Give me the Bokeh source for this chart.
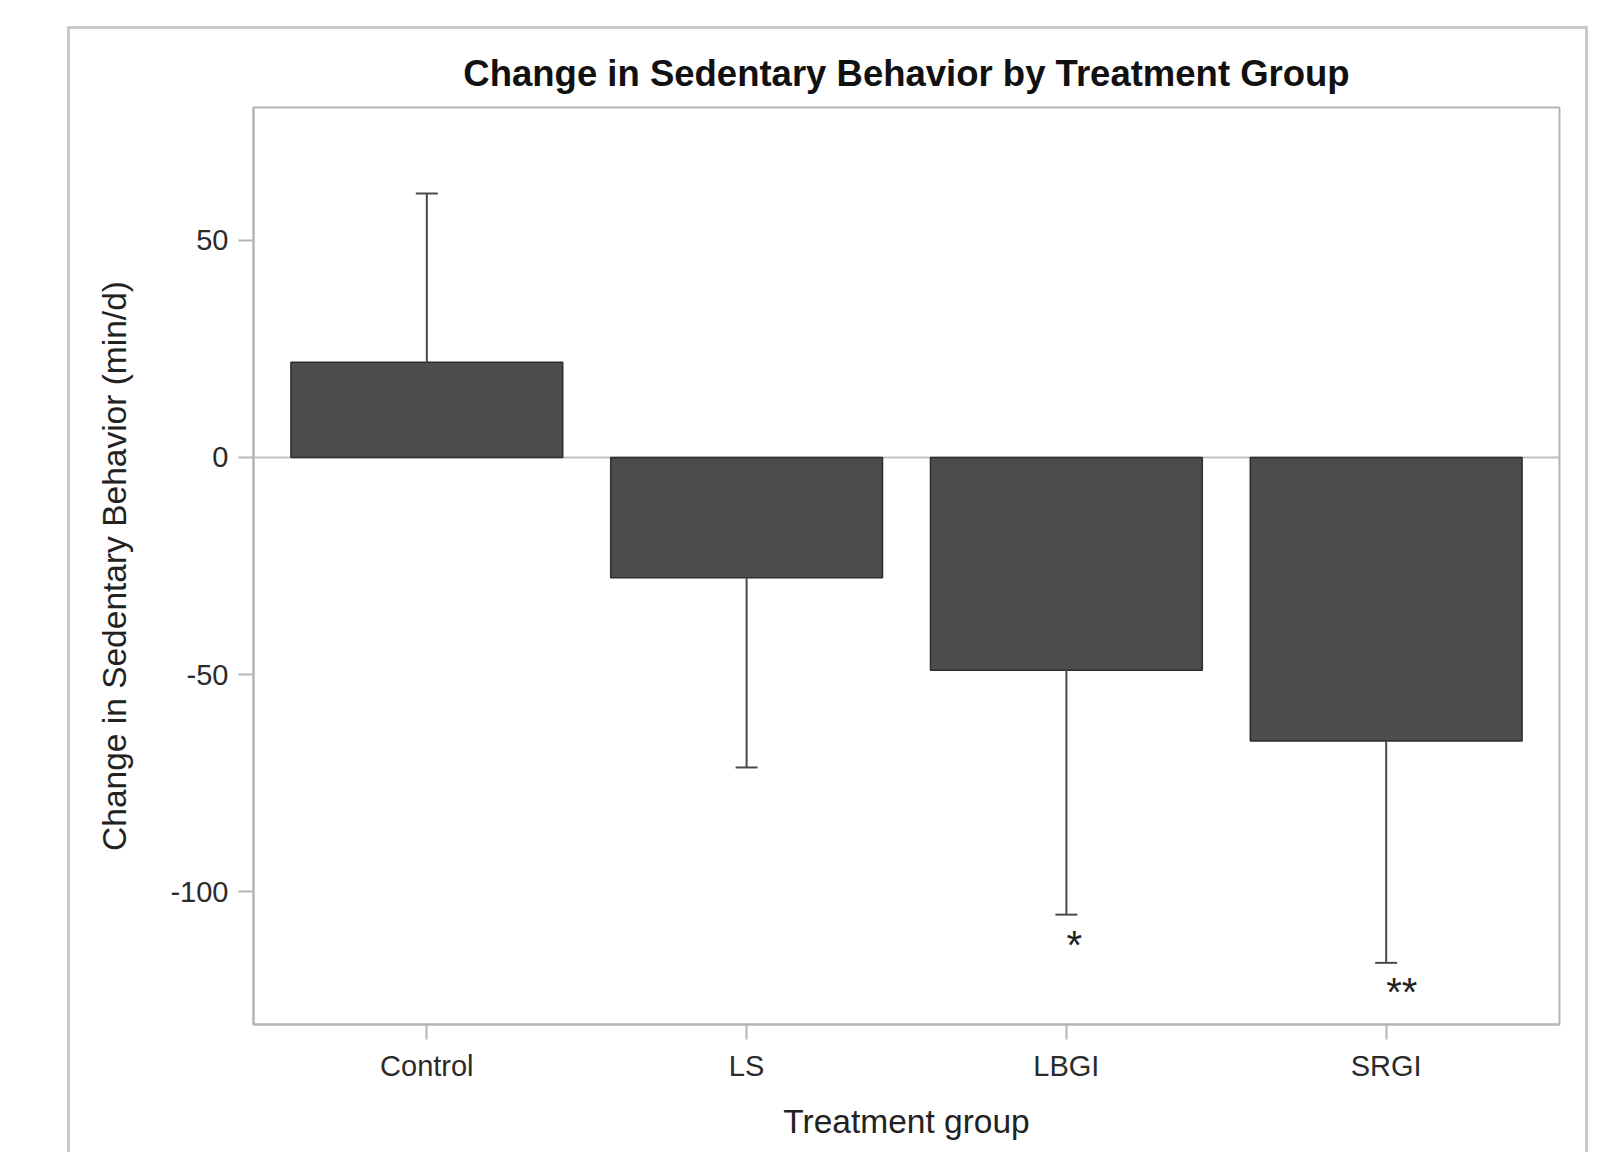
from bokeh.plotting import figure
from bokeh.models import Range1d, FactorRange, FixedTicker, Span, ColumnDataSource
from bokeh.core.properties import value
from bokeh.embed import file_html
from bokeh.resources import INLINE

# ---- data ----
groups = ["Control", "LS", "LBGI", "SRGI"]
mean_change = [21.9, -27.7, -49.0, -65.3]
error_end = [60.8, -71.4, -105.3, -116.4]
sig_groups = ["LBGI", "SRGI"]
sig_text = ["*", "**"]
sig_y = [-112.2, -123.0]
y_ticks = [-100, -50, 0, 50]
y_tick_labels = ["-100", "-50", "0", "50"]
title_text = "Change in Sedentary Behavior by Treatment Group"
x_label = "Treatment group"
y_label = "Change in Sedentary Behavior (min/d)"

FONT = "Liberation Sans"
AXIS_COLOR = "#b1b5ba"
TEXT_COLOR = "#2b2b2b"

src = ColumnDataSource(dict(groups=groups, mean=mean_change, err=error_end))
sig_src = ColumnDataSource(dict(groups=sig_groups, text=sig_text, y=sig_y))

p = figure(
    width=1521, height=1126,
    x_range=FactorRange(factors=groups, range_padding=0.042, range_padding_units="absolute"),
    y_range=Range1d(-130.6, 80.6),
    output_backend="svg", toolbar_location=None,
    min_border_left=183, min_border_right=32, min_border_top=78, min_border_bottom=131,
)
p.styles = {
    "margin-left": "67px",
    "margin-top": "26px",
    "border-left": "3px solid #cacaca",
    "border-top": "3px solid #cacaca",
    "border-right": "3px solid #cacaca",
}

p.title.text = title_text
p.title.text_font = FONT
p.title.text_font_size = "36.5px"
p.title.text_font_style = "bold"
p.title.text_color = "#111111"
p.title.align = "center"
p.title.standoff = 28

p.grid.visible = False
p.outline_line_color = AXIS_COLOR
p.outline_line_width = 2
p.background_fill_color = "white"
p.border_fill_color = "white"

for ax in (p.xaxis, p.yaxis):
    ax.axis_line_color = AXIS_COLOR
    ax.axis_line_width = 2
    ax.major_tick_line_color = AXIS_COLOR
    ax.major_tick_line_width = 2
    ax.major_tick_out = 15
    ax.major_tick_in = 0
    ax.minor_tick_line_color = None
    ax.major_label_text_font = FONT
    ax.major_label_text_font_size = "29px"
    ax.major_label_text_color = TEXT_COLOR
    ax.axis_label_text_font = FONT
    ax.axis_label_text_font_size = "33.5px"
    ax.axis_label_text_font_style = "normal"
    ax.axis_label_text_color = "#222222"

p.xaxis.axis_label = x_label
p.yaxis.axis_label = y_label
p.yaxis.ticker = FixedTicker(ticks=y_ticks)
p.yaxis.major_label_overrides = dict(zip(y_ticks, y_tick_labels))
p.xaxis.major_label_standoff = 10
p.yaxis.major_label_standoff = 10
p.xaxis.axis_label_standoff = 18
p.yaxis.axis_label_standoff = 34

zero = Span(location=0, dimension="width", line_color="#bdc1c5", line_width=2, level="underlay")
p.add_layout(zero)

p.vbar(x="groups", top="mean", bottom=0, width=0.85, source=src,
       fill_color="#4c4c4c", line_color="#2e2e2e", line_width=1.5)

p.segment(x0="groups", y0="mean", x1="groups", y1="err", source=src,
          line_color="#4a4a4a", line_width=2)
p.scatter(x="groups", y="err", marker="dash", size=22, source=src,
          line_color="#4a4a4a", line_width=2)

p.text(x="groups", y="y", text="text", source=sig_src,
       text_font=value(FONT), text_font_size="40px", text_color="#222222",
       text_align="left", text_baseline="middle")

open("out.html", "w").write(file_html(p, INLINE))
